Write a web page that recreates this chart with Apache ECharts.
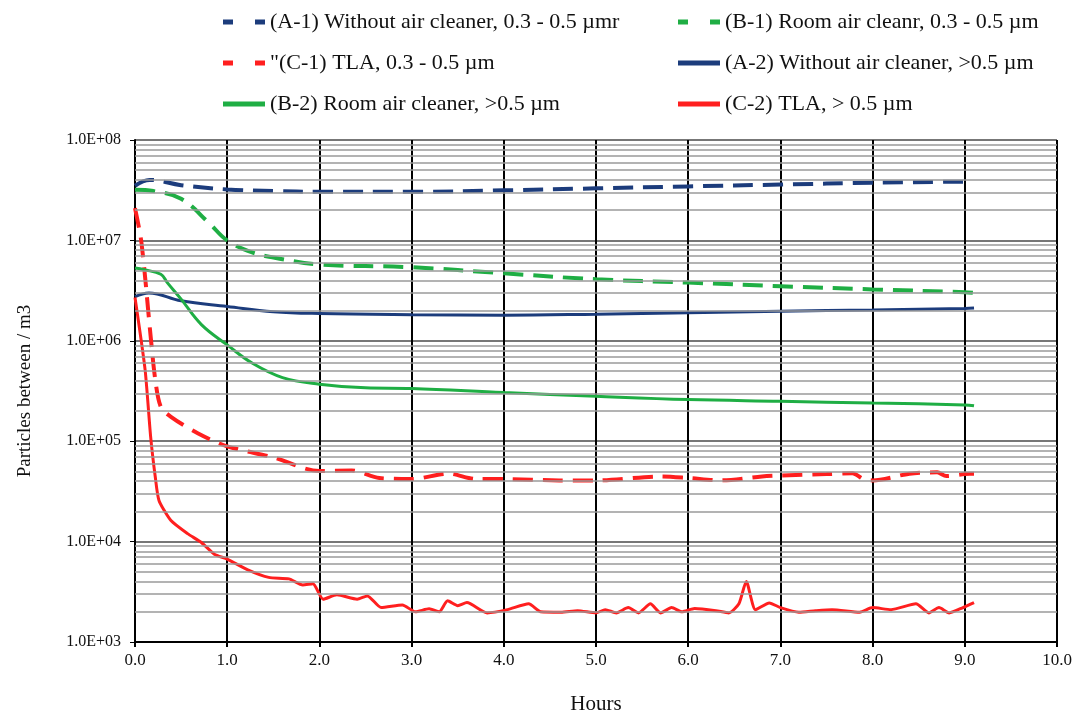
<!DOCTYPE html>
<html>
<head>
<meta charset="utf-8">
<script src="https://cdn.jsdelivr.net/npm/echarts@6/dist/echarts.min.js"></script>
<style>
  html, body { margin: 0; padding: 0; background: #fff; }
  #chart { width: 1090px; height: 717px; }
</style>
</head>
<body>
<div id="chart"></div>
<script>
// (A-1) without air cleaner, 0.3 - 0.5 um
const hoursA1 = [0, 0.16, 0.5, 1.0, 1.5, 2.0, 3.0, 4.0, 5.0, 6.0, 7.0, 8.0, 9.0];
const valsA1 = [3.5e7, 4.0e7, 3.55e7, 3.22e7, 3.1e7, 3.05e7, 3.05e7, 3.15e7, 3.3e7, 3.45e7, 3.6e7, 3.75e7, 3.85e7];
// (B-1) room air cleaner, 0.3 - 0.5 um
const hoursB1 = [0, 0.2, 0.5, 0.8, 1.0, 1.27, 1.6, 2.0, 3.0, 4.0, 5.0, 6.0, 7.0, 8.0, 9.0, 9.1];
const valsB1 = [3.2e7, 3.1e7, 2.6e7, 1.5e7, 1.0e7, 7.6e6, 6.5e6, 5.75e6, 5.4e6, 4.7e6, 4.1e6, 3.8e6, 3.5e6, 3.25e6, 3.05e6, 3.0e6];
// (C-1) TLA, 0.3 - 0.5 um
const hoursC1 = [0, 0.07, 0.17, 0.22, 0.28, 0.39, 0.68, 1.0, 1.5, 2.0, 2.35, 2.65, 3.0, 3.4, 3.7, 4.0, 4.6, 5.0, 5.7, 6.0, 6.35, 6.8, 7.0, 7.5, 7.78, 7.9, 8.0, 8.4, 8.7, 8.8, 9.05, 9.1];
const valsC1 = [2.1e7, 9.5e6, 1.1e6, 4.1e5, 2.2e5, 1.75e5, 1.2e5, 8.9e4, 6.9e4, 5.05e4, 5.1e4, 4.3e4, 4.2e4, 4.75e4, 4.2e4, 4.2e4, 4.07e4, 4.07e4, 4.45e4, 4.3e4, 4.07e4, 4.45e4, 4.55e4, 4.7e4, 4.8e4, 4.2e4, 4.07e4, 4.75e4, 4.9e4, 4.5e4, 4.75e4, 4.75e4];
// (A-2) without air cleaner, >0.5 um
const hoursA2 = [0, 0.15, 0.5, 1.0, 1.5, 2.0, 3.0, 4.0, 5.0, 6.0, 7.0, 8.0, 9.0, 9.1];
const valsA2 = [2.75e6, 3.0e6, 2.5e6, 2.2e6, 1.95e6, 1.87e6, 1.82e6, 1.8e6, 1.84e6, 1.9e6, 1.97e6, 2.03e6, 2.1e6, 2.12e6];
// (B-2) room air cleaner, >0.5 um
const hoursB2 = [0, 0.1, 0.28, 0.35, 0.5, 0.72, 1.0, 1.27, 1.6, 2.0, 2.5, 3.0, 4.0, 5.0, 6.0, 7.0, 8.0, 9.0, 9.1];
const valsB2 = [5.3e6, 5.1e6, 4.6e6, 3.8e6, 2.6e6, 1.45e6, 9.1e5, 6.0e5, 4.3e5, 3.7e5, 3.4e5, 3.35e5, 3.05e5, 2.8e5, 2.6e5, 2.5e5, 2.4e5, 2.3e5, 2.25e5];
// (C-2) TLA, >0.5 um
const hoursC2 = [0, 0.11, 0.17, 0.22, 0.26, 0.39, 0.57, 0.72, 0.86, 1.0, 1.23, 1.45, 1.67, 1.82, 1.93, 2.04, 2.19, 2.41, 2.52, 2.67, 2.9, 3.04, 3.19, 3.3, 3.39, 3.5, 3.6, 3.82, 4.04, 4.27, 4.4, 4.62, 4.8, 5.0, 5.1, 5.22, 5.35, 5.46, 5.59, 5.7, 5.82, 5.93, 6.07, 6.3, 6.44, 6.55, 6.63, 6.73, 6.88, 7.0, 7.2, 7.38, 7.56, 7.86, 8.0, 8.2, 8.47, 8.61, 8.72, 8.83, 8.98, 9.1];
const valsC2 = [2.7e6, 5.1e5, 1.1e5, 4.4e4, 2.57e4, 1.62e4, 1.2e4, 9.8e3, 7.5e3, 6.7e3, 5.2e3, 4.4e3, 4.25e3, 3.7e3, 3.8e3, 2.67e3, 2.95e3, 2.67e3, 2.88e3, 2.2e3, 2.34e3, 2.0e3, 2.14e3, 2.0e3, 2.57e3, 2.3e3, 2.47e3, 1.95e3, 2.1e3, 2.4e3, 2.0e3, 1.98e3, 2.05e3, 1.95e3, 2.1e3, 1.95e3, 2.2e3, 1.95e3, 2.4e3, 1.95e3, 2.2e3, 2.0e3, 2.15e3, 2.05e3, 1.95e3, 2.4e3, 4.0e3, 2.1e3, 2.45e3, 2.2e3, 1.98e3, 2.05e3, 2.1e3, 1.98e3, 2.2e3, 2.1e3, 2.4e3, 1.95e3, 2.2e3, 1.95e3, 2.2e3, 2.47e3];

const names = {
    a1: '(A-1) Without air cleaner, 0.3 - 0.5 \u00b5mr',
    b1: '(B-1) Room air cleanr, 0.3 - 0.5 \u00b5m',
    c1: '"(C-1) TLA, 0.3 - 0.5 \u00b5m',
    a2: '(A-2) Without air cleaner, >0.5 \u00b5m',
    b2: '(B-2) Room air cleaner, >0.5 \u00b5m',
    c2: '(C-2) TLA, > 0.5 \u00b5m'
};

const NAVY = '#1c3c7c', GREEN = '#1fae44', RED = '#ff1f1f';
const FONT = '"Liberation Serif", "DejaVu Serif", serif';
const DASH_ICON = 'path://M0,0h10v5h-10zM32,0h10v5h-10z';
const SOLID_ICON = 'path://M0,0h42v5h-42z';

function zip(xs, ys) {
    return xs.map((x, i) => [x, ys[i]]);
}

// minor log grid lines 2..9 x 10^n
const minorLines = [];
for (let e = 3; e < 8; e++) {
    for (let m = 2; m <= 9; m++) {
        minorLines.push({ yAxis: m * Math.pow(10, e) });
    }
}

function line(name, xs, ys, color, dashed, smooth) {
    return {
        name: name,
        type: 'line',
        data: zip(xs, ys),
        symbol: 'none',
        smooth: smooth,
        z: 3,
        lineStyle: { color: color, width: dashed ? 4 : 3, type: dashed ? [20, 10] : 'solid' },
        itemStyle: { color: color }
    };
}

function legendBox(left, items) {
    return {
        left: left, top: 6, orient: 'vertical', itemGap: 19,
        itemWidth: 42, itemHeight: 5,
        textStyle: { fontFamily: FONT, fontSize: 22, color: '#111' },
        data: items.map(it => ({ name: it[0], icon: it[1] ? DASH_ICON : SOLID_ICON }))
    };
}

const chart = echarts.init(document.getElementById('chart'));
chart.setOption({
    backgroundColor: '#fff',
    animation: false,
    textStyle: { fontFamily: FONT },
    legend: [
        legendBox(218, [[names.a1, true], [names.c1, true], [names.b2, false]]),
        legendBox(673, [[names.b1, true], [names.a2, false], [names.c2, false]])
    ],
    grid: { left: 135, right: 33, top: 140, bottom: 75, outerBoundsMode: 'none' },
    xAxis: {
        type: 'value', min: 0, max: 10, interval: 1,
        name: 'Hours', nameLocation: 'middle', nameGap: 52,
        nameTextStyle: { fontFamily: FONT, fontSize: 21, color: '#111' },
        axisLine: { lineStyle: { color: '#000', width: 2 } },
        axisTick: { show: true, length: 5, lineStyle: { color: '#000', width: 2 } },
        axisLabel: { fontFamily: FONT, fontSize: 17, color: '#111', margin: 10, formatter: v => v.toFixed(1) },
        splitLine: { show: true, lineStyle: { color: '#000', width: 2 } }
    },
    yAxis: {
        type: 'log', logBase: 10, min: 1000, max: 1e8,
        name: 'Particles between / m3', nameLocation: 'middle', nameGap: 100,
        nameTextStyle: { fontFamily: FONT, fontSize: 19, color: '#111' },
        axisLine: { show: true, lineStyle: { color: '#000', width: 2 } },
        axisTick: { show: true, length: 5, lineStyle: { color: '#000' } },
        axisLabel: {
            fontFamily: FONT, fontSize: 16, color: '#111', margin: 14,
            formatter: v => '1.0E+0' + Math.round(Math.log10(v))
        },
        splitLine: { show: true, lineStyle: { color: '#777', width: 2 } }
    },
    series: [
        {
            name: 'grid', type: 'line', data: [], silent: true, z: 1,
            markLine: {
                silent: true, symbol: 'none', animation: false,
                label: { show: false },
                lineStyle: { color: '#9a9a9a', width: 1.6, type: 'solid' },
                data: minorLines
            }
        },
        line(names.a1, hoursA1, valsA1, NAVY, true, 0.4),
        line(names.b1, hoursB1, valsB1, GREEN, true, 0.4),
        line(names.c1, hoursC1, valsC1, RED, true, 0.3),
        line(names.a2, hoursA2, valsA2, NAVY, false, 0.4),
        line(names.b2, hoursB2, valsB2, GREEN, false, 0.4),
        line(names.c2, hoursC2, valsC2, RED, false, 0.2)
    ]
});
</script>
</body>
</html>
